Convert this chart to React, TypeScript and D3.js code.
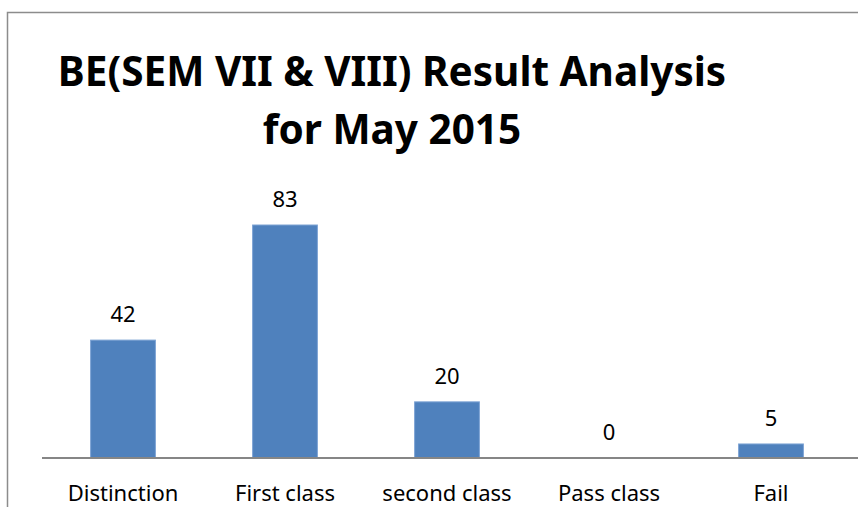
import React, { useEffect, useRef } from "react";
import * as d3 from "d3";

const categories = ["Distinction", "First class", "second class", "Pass class", "Fail"];
const counts = [42, 83, 20, 0, 5];
const titleLines = ["BE(SEM VII & VIII) Result Analysis", "for May 2015"];

const width = 858;
const height = 507;

const App = () => {
  const ref: any = useRef(null);

  useEffect(() => {
    const svg = d3.select(ref.current);
    svg.selectAll("*").remove();

    const font = "'Noto Sans', 'Open Sans', sans-serif";

    // chart frame (runs off the right and bottom of the picture)
    svg
      .append("rect")
      .attr("x", 7.5)
      .attr("y", 12.5)
      .attr("width", 900)
      .attr("height", 600)
      .attr("fill", "#fff")
      .attr("stroke", "#8c8c8c")
      .attr("stroke-width", 1.5);

    // title
    svg
      .append("text")
      .attr("text-anchor", "middle")
      .attr("font-family", font)
      .attr("font-weight", "bold")
      .attr("font-size", 40.5)
      .attr("fill", "#000")
      .selectAll("tspan")
      .data(titleLines)
      .join("tspan")
      .attr("x", 392)
      .attr("y", (d, i) => 86 + i * 58)
      .text((d) => d);

    const baseline = 458;
    const x = d3.scaleBand().domain(categories).range([42, 852]).paddingInner(0.6).paddingOuter(0.3);
    const y = d3.scaleLinear().domain([0, 83]).range([baseline, 225]);

    const g = svg.append("g");

    g.selectAll("rect.bar")
      .data(counts)
      .join("rect")
      .attr("class", "bar")
      .attr("x", (d, i) => x(categories[i]) || 0)
      .attr("y", (d) => y(d))
      .attr("width", x.bandwidth())
      .attr("height", (d) => baseline - y(d))
      .attr("fill", "#4f81bd")
      .attr("stroke", "#7ea4d4")
      .attr("stroke-width", 1);

    // value labels
    g.selectAll("text.val")
      .data(counts)
      .join("text")
      .attr("class", "val")
      .attr("x", (d, i) => (x(categories[i]) || 0) + x.bandwidth() / 2)
      .attr("y", (d) => y(d) - 18)
      .attr("text-anchor", "middle")
      .attr("font-family", font)
      .attr("font-size", 22)
      .attr("fill", "#000")
      .text((d) => d);

    // category axis
    const axis = d3.axisBottom(x).tickSize(0).tickPadding(0);
    const ax = svg
      .append("g")
      .attr("transform", `translate(0,${baseline})`)
      .call(axis);
    ax.select(".domain").remove();
    ax.append("line")
      .attr("x1", 42)
      .attr("x2", 870)
      .attr("stroke", "#868686")
      .attr("stroke-width", 2);
    ax.selectAll(".tick text")
      .attr("dy", 0)
      .attr("y", 43)
      .attr("font-family", font)
      .attr("font-size", 22)
      .attr("fill", "#000");
  }, []);

  return (
    <svg
      ref={ref}
      width={width}
      height={height}
      style={{ position: "absolute", left: 0, top: 0, background: "#fff" }}
    />
  );
};

export default App;
